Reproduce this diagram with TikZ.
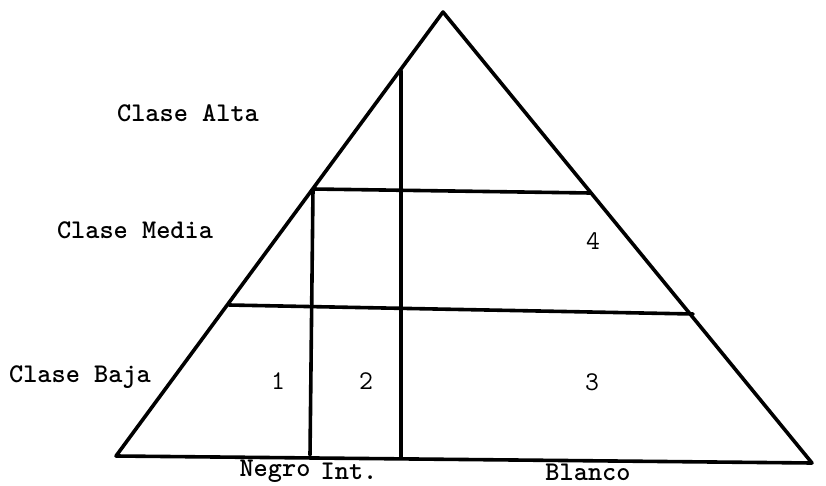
\documentclass[tikz,border=0pt]{standalone}
\usepackage{fontspec}
\usetikzlibrary{calc}
\begin{document}
\begin{tikzpicture}[x=1pt,y=-1pt,
  edge/.style={line width=3.6pt, line cap=round, line join=round},
  lbl/.style={font=\ttfamily\bfseries\fontsize{27}{29}\selectfont, inner sep=0pt, anchor=center},
  num/.style={font=\ttfamily\fontsize{27}{29}\selectfont, inner sep=0pt, anchor=center}]
\useasboundingbox (0,0) rectangle (826,486);
% vertices
\coordinate (A) at (443,12);
\coordinate (L) at (116,456);
\coordinate (R) at (812,463);
% horizontal line ends
\coordinate (h1l) at (313,189);
\coordinate (h1r) at (590,193);
\coordinate (h2l) at (229,305);
\coordinate (h2r) at (693,314);
% vertical line ends
\coordinate (v1t) at (313,189);
\coordinate (v1b) at (310,455);
\coordinate (v2t) at (401,71);
\coordinate (v2b) at (401,457);
\draw[edge] (L) -- (A) -- (R) -- cycle;
\draw[edge] (h1l) -- (h1r);
\draw[edge] (h2l) -- (h2r);
\draw[edge] (v1t) -- (v1b);
\draw[edge] (v2t) -- (v2b);
% labels
\node[lbl] (alta) at (188,113) {Clase Alta};
\node[lbl] (media) at (135,230) {Clase Media};
\node[lbl] (baja) at (80,377) {Clase Baja};
\node[num] (n1) at (278,381) {1};
\node[num] (n2) at (366,381) {2};
\node[num] (n3) at (592,382) {3};
\node[num] (n4) at (593,241) {4};
\node[lbl] (negro) at (275,471) {Negro};
\node[lbl] (int) at (349,471) {Int.};
\node[lbl] (blanco) at (588,472) {Blanco};
\end{tikzpicture}
\end{document}
